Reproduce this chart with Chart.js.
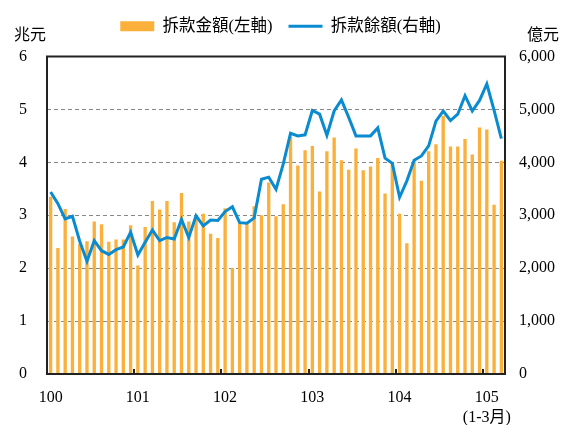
<!DOCTYPE html>
<html>
<head>
<meta charset="utf-8">
<script src="https://cdn.jsdelivr.net/npm/chart.js@4"></script>
<style>
  html, body { margin: 0; padding: 0; background: #fff; }
  #wrap { width: 561px; height: 425px; }
</style>
</head>
<body>
<div id="wrap"><canvas id="chartCall"></canvas></div>
<script>
// monthly, 100年1月 ~ 105年3月
const yearLabels = ["100", "101", "102", "103", "104", ["105", "(1-3月)"]];
const months = [];
for (let y = 100; y <= 105; y++) {
  for (let m = 1; m <= 12; m++) {
    if (y === 105 && m > 3) break;
    months.push(y + "/" + m);
  }
}

// 拆款金額 (兆元, left axis)
const amount = [
  3.35, 2.38, 3.12, 2.60, 2.45, 2.51, 2.88, 2.83, 2.50, 2.54, 2.54, 2.81,
  2.05, 2.78, 3.27, 3.11, 3.27, 2.87, 3.42, 2.88, 2.92, 3.03, 2.65, 2.57,
  3.13, 2.00, 2.85, 2.85, 3.17, 3.00, 3.62, 2.98, 3.21, 4.49, 3.94, 4.23,
  4.31, 3.45, 4.21, 4.47, 4.04, 3.86, 4.26, 3.85, 3.92, 4.08, 3.41, 3.99,
  3.03, 2.47, 4.02, 3.65, 4.21, 4.34, 4.88, 4.30, 4.30, 4.44, 4.15, 4.66,
  4.62, 3.20, 4.03
];

// 拆款餘額 (億元, right axis)
const balance = [
  3440, 3220, 2930, 2980, 2510, 2130, 2520, 2330, 2260, 2350, 2400, 2680,
  2250, 2490, 2720, 2520, 2580, 2550, 2920, 2580, 2990, 2800, 2910, 2900,
  3070, 3160, 2860, 2850, 2950, 3680, 3720, 3490, 3970, 4550, 4500, 4520,
  4980, 4910, 4510, 4970, 5180, 4850, 4500, 4500, 4500, 4650, 4080, 3980,
  3340, 3650, 4040, 4120, 4310, 4780, 4970, 4790, 4910, 5260, 4970, 5170,
  5480, 4980, 4450
];

const FONT = "'Liberation Serif', 'Noto Sans CJK TC', serif";
const ORANGE = "#FBB03B";
const BLUE = "#0B8BCF";

// extra room under the legend, frame, inner year ticks, unit labels
const decorations = {
  id: "decorations",
  beforeInit(chart) {
    const fit = chart.legend.fit;
    chart.legend.fit = function () {
      fit.call(this);
      this.height += 12;
    };
  },
  afterDraw(chart) {
    const { ctx, chartArea: a, scales } = chart;
    const x = scales.x;
    ctx.save();
    ctx.setLineDash([]);
    ctx.strokeStyle = "#222";
    ctx.lineWidth = 2;
    for (let i = 12; i < months.length; i += 12) {
      const px = Math.round((x.getPixelForValue(i - 1) + x.getPixelForValue(i)) / 2);
      ctx.beginPath();
      ctx.moveTo(px, a.bottom);
      ctx.lineTo(px, a.bottom - 5);
      ctx.stroke();
    }
    ctx.strokeRect(a.left, a.top, a.right - a.left, a.bottom - a.top);
    ctx.fillStyle = "#000";
    ctx.font = "16px " + FONT;
    ctx.textAlign = "center";
    ctx.textBaseline = "middle";
    ctx.fillText("兆元", a.left - 17, a.top - 21);
    ctx.fillText("億元", a.right + 38, a.top - 21);
    ctx.restore();
  }
};

new Chart("chartCall", {
  type: "bar",
  data: {
    labels: months,
    datasets: [
      {
        label: "拆款金額(左軸)",
        data: amount,
        yAxisID: "y",
        backgroundColor: ORANGE,
        borderWidth: 0,
        barPercentage: 0.46,
        categoryPercentage: 1,
        order: 2
      },
      {
        type: "line",
        label: "拆款餘額(右軸)",
        data: balance,
        yAxisID: "y2",
        borderColor: BLUE,
        backgroundColor: BLUE,
        borderWidth: 3,
        pointRadius: 0,
        tension: 0,
        order: 1
      }
    ]
  },
  options: {
    responsive: true,
    maintainAspectRatio: false,
    animation: false,
    layout: { padding: { top: 2 } },
    plugins: {
      tooltip: { enabled: false },
      legend: {
        display: true,
        position: "top",
        labels: {
          color: "#000",
          font: { family: FONT, size: 16.5 },
          usePointStyle: true,
          pointStyleWidth: 34,
          boxHeight: 10,
          padding: 16,
          sort: (a, b) => a.datasetIndex - b.datasetIndex,
          generateLabels(chart) {
            const items = Chart.defaults.plugins.legend.labels.generateLabels(chart);
            items.forEach(it => {
              if (it.datasetIndex === 0) { it.pointStyle = "rect"; it.lineWidth = 0; }
              else { it.pointStyle = "line"; it.lineWidth = 3; it.strokeStyle = BLUE; }
            });
            return items;
          }
        }
      }
    },
    scales: {
      x: {
        grid: { display: false, drawTicks: false },
        border: { display: false },
        afterFit: s => { s.height = 51; },
        ticks: {
          autoSkip: false,
          maxRotation: 0,
          padding: 13,
          color: "#000",
          font: { family: FONT, size: 16, lineHeight: 1.3 },
          callback: (v, i) => (i % 12 === 0 ? yearLabels[i / 12] : "")
        }
      },
      y: {
        position: "left",
        min: 0,
        max: 6,
        grid: { color: "#888", drawTicks: false, lineWidth: 1 },
        border: { display: false, dash: [4, 3] },
        afterFit: s => { s.width = 47; },
        ticks: {
          stepSize: 1,
          padding: 20,
          color: "#000",
          font: { family: FONT, size: 16 }
        }
      },
      y2: {
        position: "right",
        min: 0,
        max: 6000,
        grid: { display: false, drawTicks: false },
        border: { display: false },
        afterFit: s => { s.width = 56; },
        ticks: {
          stepSize: 1000,
          padding: 14,
          color: "#000",
          font: { family: FONT, size: 16 },
          callback: v => v.toLocaleString("en-US")
        }
      }
    }
  },
  plugins: [decorations]
});
</script>
</body>
</html>
